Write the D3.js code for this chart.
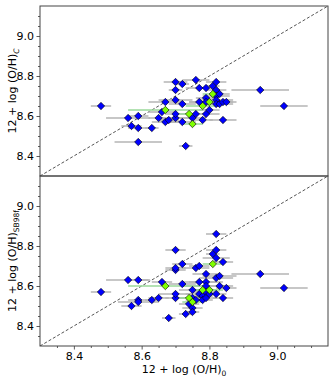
<!DOCTYPE html>
<html>
<head>
<meta charset="utf-8">
<script src="https://cdn.jsdelivr.net/npm/d3@7"></script>
<style>
  body { margin: 0; background: #fff; }
  text { font-family: "DejaVu Sans", sans-serif; fill: #000; }
</style>
</head>
<body>
<script>
/* shared axis range for both panels */
var DOMAIN = [8.3, 9.15];
var MAJOR_TICKS = [8.4, 8.6, 8.8, 9.0];
var MINOR_TICKS = [8.35, 8.45, 8.5, 8.55, 8.65, 8.7, 8.75, 8.85, 8.9, 8.95, 9.05, 9.1];

/* top panel: 12+log(O/H)_C vs 12+log(O/H)_0 */
var topX = [8.48, 8.56, 8.59, 8.57, 8.59, 8.63, 8.59, 8.65, 8.66, 8.67, 8.67, 8.67, 8.68, 8.70, 8.70, 8.70, 8.70, 8.70, 8.72, 8.72, 8.72, 8.73, 8.74, 8.75, 8.75, 8.76, 8.76, 8.77, 8.77, 8.78, 8.78, 8.79, 8.79, 8.79, 8.79, 8.80, 8.80, 8.81, 8.81, 8.82, 8.82, 8.82, 8.82, 8.82, 8.83, 8.83, 8.84, 8.85, 8.84, 8.95, 9.02];
var topY = [8.65, 8.59, 8.60, 8.55, 8.54, 8.54, 8.47, 8.59, 8.62, 8.63, 8.67, 8.57, 8.58, 8.59, 8.61, 8.68, 8.73, 8.77, 8.76, 8.66, 8.57, 8.45, 8.61, 8.59, 8.56, 8.78, 8.61, 8.74, 8.67, 8.58, 8.65, 8.74, 8.69, 8.61, 8.67, 8.67, 8.63, 8.75, 8.71, 8.77, 8.73, 8.70, 8.68, 8.66, 8.71, 8.66, 8.67, 8.67, 8.58, 8.73, 8.65];
var topErr = [0.03, 0.065, 0.03, 0.03, 0.03, 0.02, 0.07, 0.03, 0.04, 0.11, 0.05, 0.04, 0.03, 0.04, 0.03, 0.05, 0.02, 0.035, 0.02, 0.04, 0.04, 0.02, 0.03, 0.04, 0.03, 0.04, 0.03, 0.04, 0.03, 0.03, 0.05, 0.03, 0.03, 0.04, 0.05, 0.03, 0.03, 0.02, 0.03, 0.03, 0.03, 0.04, 0.05, 0.03, 0.03, 0.04, 0.03, 0.03, 0.04, 0.085, 0.07];
var topGreen = [9, 22, 24, 30, 35, 38];

/* bottom panel: 12+log(O/H)_SB98f vs 12+log(O/H)_0 */
var botX = [8.48, 8.56, 8.59, 8.57, 8.59, 8.59, 8.63, 8.65, 8.66, 8.67, 8.70, 8.70, 8.70, 8.70, 8.70, 8.72, 8.72, 8.68, 8.73, 8.74, 8.74, 8.75, 8.75, 8.75, 8.75, 8.75, 8.76, 8.76, 8.77, 8.77, 8.77, 8.78, 8.78, 8.78, 8.79, 8.79, 8.79, 8.79, 8.79, 8.80, 8.80, 8.81, 8.81, 8.82, 8.82, 8.82, 8.82, 8.82, 8.83, 8.83, 8.84, 8.84, 8.85, 8.95, 9.02];
var botY = [8.57, 8.63, 8.63, 8.50, 8.53, 8.52, 8.53, 8.54, 8.62, 8.60, 8.54, 8.56, 8.68, 8.69, 8.78, 8.71, 8.61, 8.44, 8.46, 8.54, 8.51, 8.58, 8.49, 8.47, 8.54, 8.52, 8.69, 8.53, 8.70, 8.62, 8.56, 8.58, 8.55, 8.53, 8.66, 8.62, 8.60, 8.57, 8.54, 8.58, 8.56, 8.76, 8.71, 8.86, 8.78, 8.74, 8.64, 8.56, 8.65, 8.60, 8.72, 8.54, 8.59, 8.66, 8.59];
var botErr = [0.03, 0.065, 0.03, 0.03, 0.03, 0.06, 0.02, 0.03, 0.03, 0.11, 0.03, 0.05, 0.03, 0.03, 0.03, 0.03, 0.04, 0.02, 0.02, 0.03, 0.03, 0.04, 0.03, 0.02, 0.04, 0.03, 0.04, 0.03, 0.03, 0.05, 0.04, 0.04, 0.03, 0.03, 0.04, 0.05, 0.07, 0.04, 0.03, 0.04, 0.03, 0.02, 0.03, 0.03, 0.03, 0.04, 0.05, 0.03, 0.05, 0.04, 0.03, 0.03, 0.03, 0.085, 0.07];
var botGreen = [9, 19, 25, 31, 39, 42];

var margin = {left: 40, right: 6, top: 6};
var W = 334, H = 382;
var panelH = 170;
var width = W - margin.left - margin.right;

var svg = d3.select("body").append("svg").attr("width", W).attr("height", H);

var x = d3.scaleLinear().domain(DOMAIN).range([0, width]);

function drawPanel(top, xs, ys, errs, greens, labelSub, showXLabels) {
    var g = svg.append("g").attr("transform", "translate(" + margin.left + "," + top + ")");
    var y = d3.scaleLinear().domain(DOMAIN).range([panelH, 0]);

    var pts = xs.map(function (v, i) {
        return {x: v, y: ys[i], e: errs[i], green: greens.indexOf(i) >= 0};
    });
    // green points go on top
    pts.sort(function (a, b) { return a.green - b.green; });

    var clip = "clip" + top;
    g.append("clipPath").attr("id", clip).append("rect").attr("width", width).attr("height", panelH);
    var inner = g.append("g").attr("clip-path", "url(#" + clip + ")");

    /* one-to-one line */
    inner.append("line")
        .attr("x1", x(DOMAIN[0])).attr("y1", y(DOMAIN[0]))
        .attr("x2", x(DOMAIN[1])).attr("y2", y(DOMAIN[1]))
        .attr("stroke", "#555").attr("stroke-width", 1)
        .attr("stroke-dasharray", "3,2");

    /* error bars */
    inner.selectAll(".err").data(pts).enter().append("line")
        .attr("x1", function (d) { return x(d.x - d.e); })
        .attr("x2", function (d) { return x(d.x + d.e); })
        .attr("y1", function (d) { return y(d.y); })
        .attr("y2", function (d) { return y(d.y); })
        .attr("stroke", function (d) { return d.green ? "#9ad89a" : "#b4b4b4"; })
        .attr("stroke-width", 1.5);

    /* markers */
    var s = 3.7;
    inner.selectAll(".pt").data(pts).enter().append("path")
        .attr("d", "M0," + (-s) + "L" + s + ",0L0," + s + "L" + (-s) + ",0Z")
        .attr("transform", function (d) { return "translate(" + x(d.x) + "," + y(d.y) + ")"; })
        .attr("fill", function (d) { return d.green ? "#7fff00" : "#0000ff"; })
        .attr("stroke", "#000").attr("stroke-width", 0.6);

    /* axes */
    g.append("g").call(d3.axisLeft(y).tickValues(MAJOR_TICKS).tickFormat(d3.format(".1f")).tickSize(3.5).tickPadding(2.5));
    g.append("g").call(d3.axisLeft(y).tickValues(MINOR_TICKS).tickFormat("").tickSize(2));
    if (showXLabels) {
        g.append("g").attr("transform", "translate(0," + panelH + ")")
            .call(d3.axisBottom(x).tickValues(MAJOR_TICKS).tickFormat(d3.format(".1f")).tickSize(3.5).tickPadding(2.5));
        g.append("g").attr("transform", "translate(0," + panelH + ")")
            .call(d3.axisBottom(x).tickValues(MINOR_TICKS).tickFormat("").tickSize(2));
    }
    g.selectAll(".domain").remove();
    g.selectAll(".tick line").attr("stroke", "#333").attr("stroke-width", 0.8);
    g.selectAll(".tick text").attr("font-size", "11px").attr("fill", "#000");

    /* frame */
    g.append("rect").attr("width", width).attr("height", panelH)
        .attr("fill", "none").attr("stroke", "#444").attr("stroke-width", 1);

    /* y label */
    var lab = svg.append("text")
        .attr("transform", "translate(16," + (top + panelH / 2) + ") rotate(-90)")
        .attr("text-anchor", "middle")
        .attr("font-size", "11px");
    lab.append("tspan").text("12 + log (O/H)");
    lab.append("tspan").attr("font-size", "7.5px").attr("dy", 2.5).attr("font-style", labelSub === "C" ? "italic" : "normal").text(labelSub);
}

drawPanel(margin.top, topX, topY, topErr, topGreen, "C", false);
drawPanel(margin.top + panelH, botX, botY, botErr, botGreen, "SB98f", true);

var xl = svg.append("text")
    .attr("x", margin.left + width / 2).attr("y", 373)
    .attr("text-anchor", "middle").attr("font-size", "11px");
xl.append("tspan").text("12 + log (O/H)");
xl.append("tspan").attr("font-size", "7.5px").attr("dy", 2.5).text("0");
</script>
</body>
</html>
